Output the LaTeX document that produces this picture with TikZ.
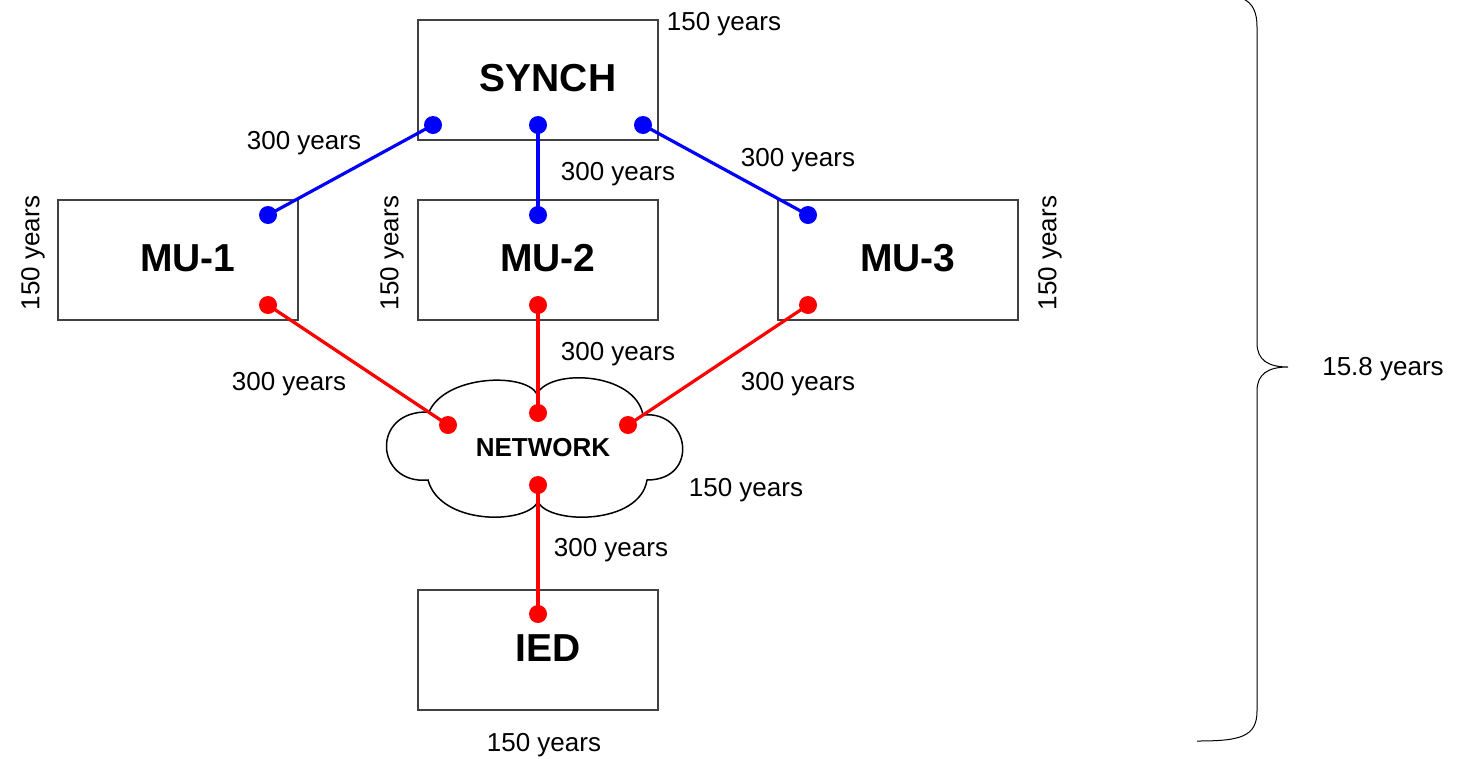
\documentclass[tikz,border=0pt]{standalone}
\usepackage{fontspec}
\setmainfont{Liberation Sans}
\begin{document}
\begin{tikzpicture}[x=1pt,y=-1pt,
  box/.style={draw=black!75,line width=1.2pt,fill=white,minimum width=240pt,minimum height=120pt,inner sep=0pt,font=\fontsize{39}{44}\selectfont\bfseries},
  lbl/.style={font=\fontsize{26}{30}\selectfont,inner sep=0pt},
  bdot/.style={circle,fill=blue,inner sep=0pt,minimum size=18pt},
  rdot/.style={circle,fill=red,inner sep=0pt,minimum size=18pt},
  bline/.style={draw=blue,line width=3.2pt},
  rline/.style={draw=red,line width=3.2pt}]
\useasboundingbox (0,0) rectangle (1463,758);
% boxes
\node[box] (synch) at (538,80) {\hspace*{20pt}\raisebox{5pt}{SYNCH}};
\node[box] (mu1) at (178,260) {\hspace*{20pt}\raisebox{4pt}{MU-1}};
\node[box] (mu2) at (538,260) {\hspace*{20pt}\raisebox{4pt}{MU-2}};
\node[box] (mu3) at (898,260) {\hspace*{20pt}\raisebox{4pt}{MU-3}};
\node[box] (ied) at (538,650) {\hspace*{20pt}\raisebox{4pt}{IED}};
% cloud
\draw[line width=1.5pt,fill=white] (429,412) .. controls (445,375) and (525,372) .. (537,394)
  .. controls (550,368) and (635,372) .. (643,415)
  .. controls (690,410) and (700,480) .. (647,480)
  .. controls (640,525) and (550,525) .. (538,502)
  .. controls (525,525) and (440,525) .. (428,480)
  .. controls (375,485) and (370,410) .. cycle;
\node[font=\fontsize{26}{30}\selectfont\bfseries,inner sep=0pt] (net) at (543,448) {NETWORK};
% dots
\node[bdot] (s1) at (433,125) {};
\node[bdot] (s2) at (538,125) {};
\node[bdot] (s3) at (643,125) {};
\node[bdot] (m1t) at (268,215) {};
\node[bdot] (m2t) at (538,215) {};
\node[bdot] (m3t) at (808,215) {};
\node[rdot] (m1b) at (268,305) {};
\node[rdot] (m2b) at (538,305) {};
\node[rdot] (m3b) at (808,305) {};
\node[rdot] (n1) at (448,425) {};
\node[rdot] (n2) at (538,413) {};
\node[rdot] (n3) at (628,425) {};
\node[rdot] (n4) at (538,485) {};
\node[rdot] (i1) at (538,614) {};
% connectors
\draw[bline] (s1.center) -- (m1t.center);
\draw[bline] (s2.center) -- (m2t.center);
\draw[bline] (s3.center) -- (m3t.center);
\draw[rline] (m1b.center) -- (n1.center);
\draw[rline] (m2b.center) -- (n2.center);
\draw[rline] (m3b.center) -- (n3.center);
\draw[rline] (n4.center) -- (i1.center);
% labels
\node[lbl] (t1) at (724,24) {150 years};
\node[lbl] (t2) at (304,143) {300 years};
\node[lbl] (t3) at (618,174) {300 years};
\node[lbl] (t4) at (798,160) {300 years};
\node[lbl,rotate=90] (t5) at (33,253) {150 years};
\node[lbl,rotate=90] (t6) at (392,253) {150 years};
\node[lbl,rotate=90] (t7) at (1050,253) {150 years};
\node[lbl] (t8) at (618,354) {300 years};
\node[lbl] (t9) at (289,384) {300 years};
\node[lbl] (t10) at (798,384) {300 years};
\node[lbl] (t11) at (746,490) {150 years};
\node[lbl] (t12) at (611,550) {300 years};
\node[lbl] (t13) at (544,745) {150 years};
\node[lbl] (t14) at (1383,369) {15.8 years};
% brace
\draw[line width=1pt] (1197,-7) .. controls (1240,-7) and (1257,-3) .. (1257,27)
  -- (1257,343) .. controls (1257,360) and (1268,367) .. (1288,367)
  .. controls (1268,367) and (1257,374) .. (1257,391)
  -- (1257,711) .. controls (1257,737) and (1240,741) .. (1197,741);
\end{tikzpicture}
\end{document}
